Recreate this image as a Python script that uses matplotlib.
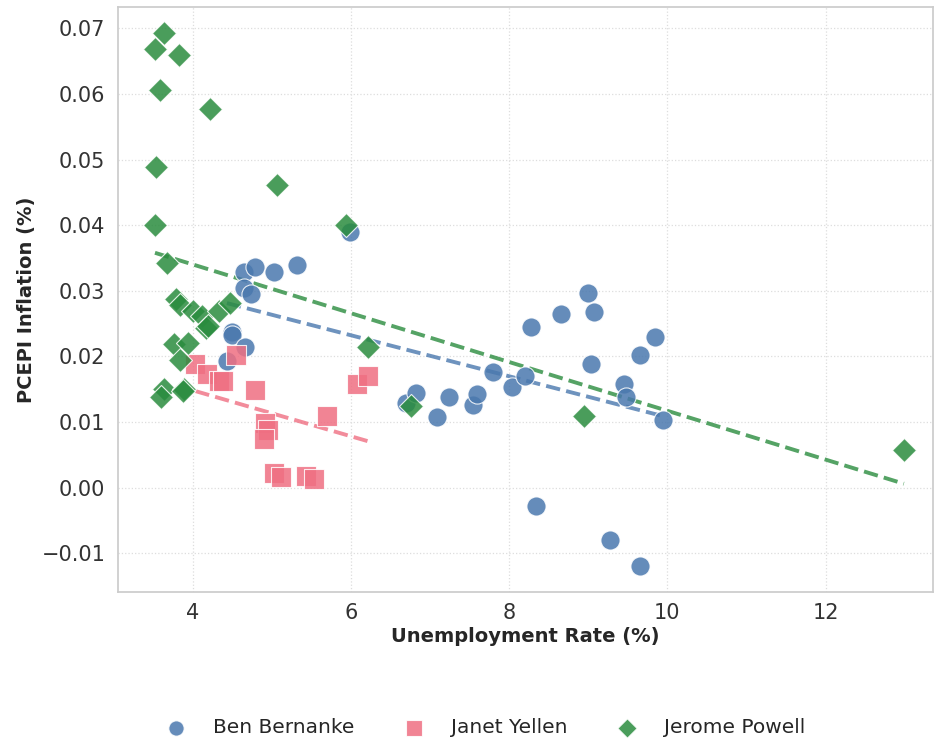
import numpy as np
import matplotlib

matplotlib.use("Agg")
import matplotlib.pyplot as plt
import seaborn as sns

# Unemployment rate (%) and PCEPI inflation for each Fed chair
bernanke_x = [4.64, 4.78, 5.02, 5.31, 4.64, 4.74, 4.50, 4.50, 4.66, 4.43, 5.99,
              6.70, 6.82, 7.08, 7.24, 7.54, 7.59, 7.79, 8.04, 8.20, 8.27, 8.65,
              9.00, 9.07, 9.03, 9.45, 9.47, 9.65, 9.84, 9.94, 8.34, 9.27, 9.65]
bernanke_y = [0.0328, 0.0336, 0.0328, 0.0340, 0.0304, 0.0295, 0.0238, 0.0233,
              0.0215, 0.0193, 0.0390, 0.0129, 0.0144, 0.0108, 0.0139, 0.0126,
              0.0143, 0.0177, 0.0153, 0.0171, 0.0245, 0.0265, 0.0297, 0.0268,
              0.0189, 0.0158, 0.0139, 0.0202, 0.0229, 0.0103, -0.0028, -0.0079,
              -0.0119]

yellen_x = [4.03, 4.18, 4.33, 4.38, 4.55, 4.79, 4.91, 4.95, 4.90, 5.03, 5.11,
            5.43, 5.53, 5.69, 6.07, 6.21]
yellen_y = [0.0189, 0.0174, 0.0162, 0.0162, 0.0203, 0.0149, 0.0099, 0.0088,
            0.0075, 0.0023, 0.0017, 0.0018, 0.0014, 0.0109, 0.0158, 0.0171]

powell_x = [3.64, 3.52, 3.83, 3.58, 4.22, 3.53, 5.06, 3.52, 5.94, 3.67, 3.78,
            3.84, 4.00, 4.12, 4.17, 4.19, 4.33, 4.47, 3.76, 3.94, 3.84, 3.64,
            3.60, 3.89, 3.88, 6.21, 6.76, 8.94, 12.99]
powell_y = [0.0693, 0.0669, 0.0660, 0.0606, 0.0577, 0.0488, 0.0461, 0.0400,
            0.0400, 0.0343, 0.0288, 0.0279, 0.0270, 0.0261, 0.0244, 0.0247,
            0.0270, 0.0282, 0.0219, 0.0220, 0.0195, 0.0150, 0.0139, 0.0151,
            0.0147, 0.0214, 0.0124, 0.0110, 0.0057]

chairs = ["Ben Bernanke", "Janet Yellen", "Jerome Powell"]
xs = [bernanke_x, yellen_x, powell_x]
ys = [bernanke_y, yellen_y, powell_y]
colors = ["#4a78ae", "#ef6f82", "#2a8c3e"]
markers = ["o", "s", "D"]
sizes = [190, 190, 150]

sns.set_theme(style="whitegrid")
plt.rcParams["font.family"] = ["DejaVu Sans"]

fig = plt.figure(figsize=(9.35, 7.42), dpi=100)
ax = fig.add_axes([0.126, 0.202, 0.872, 0.789])

for name, x, y, c, m, s in zip(chairs, xs, ys, colors, markers, sizes):
    ax.scatter(x, y, s=s, c=c, marker=m, alpha=0.85, edgecolor="white",
               linewidth=0.8, label=name, zorder=3)
    slope, intercept = np.polyfit(x, y, 1)
    xx = np.array([min(x), max(x)])
    ax.plot(xx, slope * xx + intercept, "--", color=c, lw=2.8, alpha=0.8,
            zorder=2)

ax.set_xlim(3.05, 13.36)
ax.set_ylim(-0.0159, 0.0733)
ax.set_xticks([4, 6, 8, 10, 12])
ax.set_yticks(np.arange(-0.01, 0.071, 0.01))
ax.yaxis.set_major_formatter(
    matplotlib.ticker.FuncFormatter(lambda v, p: f"{v:.2f}".replace("-", "\u2212")))
ax.tick_params(labelsize=15, colors="#333333")
ax.tick_params(axis="x", pad=2)
ax.tick_params(axis="y", pad=3)
ax.grid(True, linestyle=":", color="#dddddd", linewidth=0.9)
for sp in ax.spines.values():
    sp.set_color("#cccccc")

ax.set_xlabel("Unemployment Rate (%)", fontsize=14, fontweight="bold",
              color="#262626", labelpad=3)
ax.set_ylabel("PCEPI Inflation (%)", fontsize=14, fontweight="bold",
              color="#262626", labelpad=4)

fig.legend(*ax.get_legend_handles_labels(), loc="center",
           bbox_to_anchor=(0.514, 0.019), ncol=3, frameon=False,
           fontsize=14.5, handletextpad=0.85, columnspacing=1.95,
           markerscale=0.8)

fig.savefig("out.png", dpi=100)
plt.close(fig)
